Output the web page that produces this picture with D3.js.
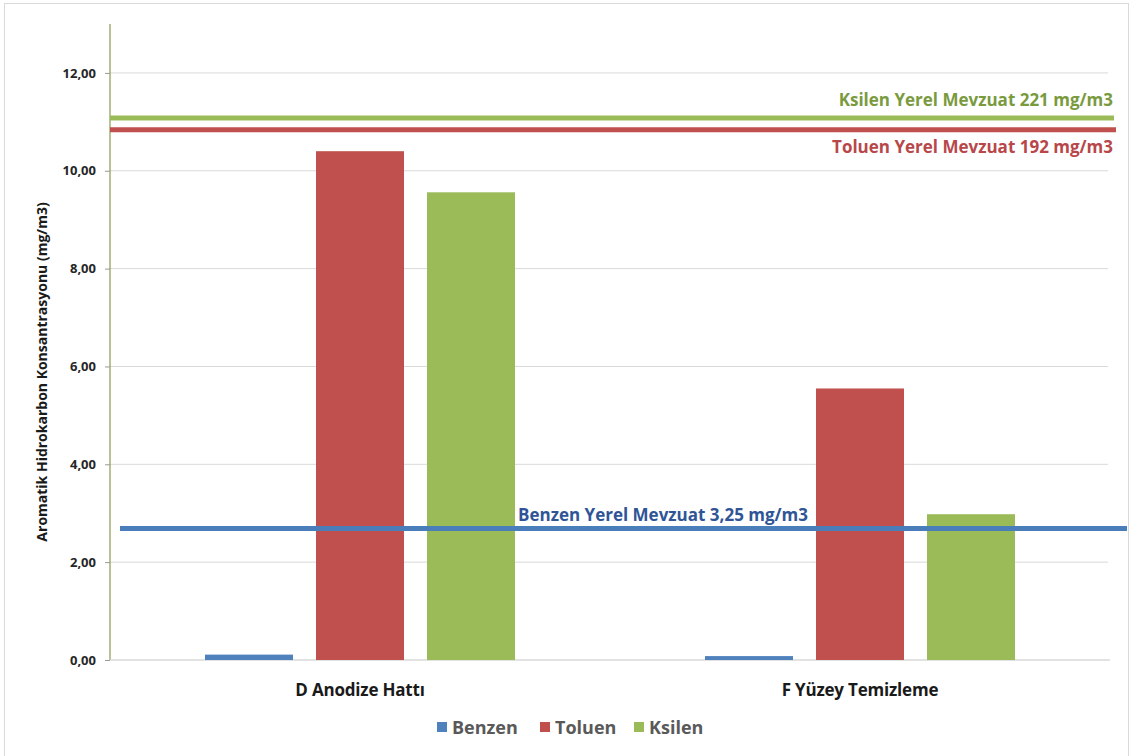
<!DOCTYPE html>
<html><head><meta charset="utf-8">
<script src="https://cdn.jsdelivr.net/npm/d3@7"></script>
<style>body{margin:0;background:#fff}svg{display:block}</style>
</head><body>
<svg id="c" width="1131" height="756"></svg>
<script>
const categories = ["D Anodize Hattı", "F Yüzey Temizleme"];
const seriesNames = ["Benzen", "Toluen", "Ksilen"];
const benzen = [0.11, 0.08];
const toluen = [10.40, 5.55];
const ksilen = [9.56, 2.98];
const yTicks = [0, 2, 4, 6, 8, 10, 12];
const limitNames = ["Ksilen Yerel Mevzuat 221 mg/m3", "Toluen Yerel Mevzuat 192 mg/m3", "Benzen Yerel Mevzuat 3,25 mg/m3"];
const limitValues = [11.08, 10.84, 2.69];

const colors = {Benzen:"#4f81bd", Toluen:"#c0504d", Ksilen:"#9bbb59"};
const limitColors = ["#9bbb59", "#c0504d", "#4a7ebb"];
const limitTextColors = ["#7a9a3e", "#b8474a", "#2f5597"];
const font = "'Open Sans', Lato, sans-serif";

const svg = d3.select("#c");
const m = {l:110, r:1110, t:24, b:660};

// outer border
svg.append("rect").attr("x",4.5).attr("y",3.5).attr("width",1124).attr("height",760)
  .attr("fill","none").attr("stroke","#d9d9d9");

const y = d3.scaleLinear().domain([0,13]).range([m.b, m.t]);
const x0 = d3.scaleBand().domain(categories).range([m.l, m.r]).padding(0);
const x1 = d3.scaleBand().domain(seriesNames).range([95, 405]).paddingInner(0.207).paddingOuter(0);

// gridlines
svg.append("g").selectAll("line").data(yTicks.filter(d=>d>0)).join("line")
  .attr("x1", m.l).attr("x2", 1108).attr("y1", d=>y(d)).attr("y2", d=>y(d))
  .attr("stroke","#d9d9d9").attr("stroke-width",1);

// y axis
const yAxis = d3.axisLeft(y).tickValues(yTicks).tickSize(5).tickPadding(9)
  .tickFormat(d=>d3.format(".2f")(d).replace(".", ","));
const gy = svg.append("g").attr("transform",`translate(${m.l},0)`).call(yAxis);
gy.select(".domain").attr("stroke","#8b9a4f").attr("stroke-width",1.2).attr("d",`M0,${m.t}V${m.b}`);
gy.selectAll(".tick line").attr("stroke","#999");
gy.selectAll(".tick text").attr("font-family",font).attr("font-weight","bold")
  .attr("font-size",13).attr("fill","#262626");

// baseline
svg.append("line").attr("x1",m.l).attr("x2",1110).attr("y1",y(0)).attr("y2",y(0))
  .attr("stroke","#d9d9d9").attr("stroke-width",1.5);

// bars
const data = categories.map((c,i)=>({cat:c, vals:[
  {s:"Benzen", v:benzen[i]}, {s:"Toluen", v:toluen[i]}, {s:"Ksilen", v:ksilen[i]}]}));
svg.append("g").selectAll("g").data(data).join("g")
  .attr("transform", d=>`translate(${x0(d.cat)},0)`)
  .selectAll("rect").data(d=>d.vals).join("rect")
  .attr("x", d=>x1(d.s)).attr("width", x1.bandwidth())
  .attr("y", d=>y(d.v)).attr("height", d=>y(0)-y(d.v))
  .attr("fill", d=>colors[d.s]);

// x labels
svg.append("g").selectAll("text").data(categories).join("text")
  .attr("x", d=>x0(d)+x0.bandwidth()/2).attr("y", 696)
  .attr("text-anchor","middle").attr("font-family",font).attr("font-weight","bold")
  .attr("font-size",17).attr("fill","#1a1a1a").attr("letter-spacing",-0.2).text(d=>d);

// limit lines
const lx1 = [m.l, m.l, 120];
const lx2 = [1114, 1116, 1127];
limitValues.forEach((v,i)=>{
  svg.append("line").attr("x1",lx1[i]).attr("x2",lx2[i]).attr("y1",y(v)).attr("y2",y(v))
    .attr("stroke",limitColors[i]).attr("stroke-width",5);
});
// limit labels
svg.append("text").attr("x",1113).attr("y",y(limitValues[0])-12).attr("text-anchor","end")
  .attr("font-family",font).attr("font-weight","bold").attr("font-size",17)
  .attr("fill",limitTextColors[0]).text(limitNames[0]);
svg.append("text").attr("x",1113).attr("y",y(limitValues[1])+23).attr("text-anchor","end")
  .attr("font-family",font).attr("font-weight","bold").attr("font-size",17)
  .attr("fill",limitTextColors[1]).text(limitNames[1]);
svg.append("text").attr("x",518).attr("y",y(limitValues[2])-7).attr("text-anchor","start")
  .attr("font-family",font).attr("font-weight","bold").attr("font-size",17)
  .attr("fill",limitTextColors[2]).text(limitNames[2]);

// y title
svg.append("text").attr("transform","translate(47,372) rotate(-90)").attr("text-anchor","middle")
  .attr("font-family",font).attr("font-weight","bold").attr("font-size",14)
  .attr("fill","#1a1a1a").text("Aromatik Hidrokarbon Konsantrasyonu (mg/m3)");

// legend
const lg = svg.append("g");
const legX = [437, 540, 634];
seriesNames.forEach((s,i)=>{
  lg.append("rect").attr("x",legX[i]).attr("y",722).attr("width",10).attr("height",10).attr("fill",colors[s]);
  lg.append("text").attr("x",legX[i]+15).attr("y",734).attr("font-family",font).attr("font-weight","bold")
    .attr("font-size",18).attr("fill","#595959").text(s);
});
</script>
</body></html>
